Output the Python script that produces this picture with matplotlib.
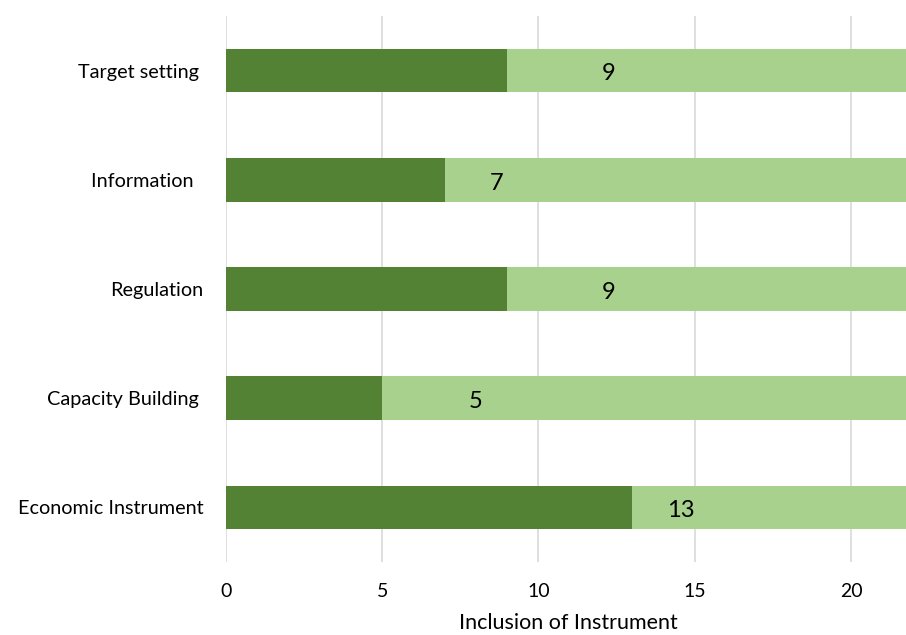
import numpy as np
import matplotlib.pyplot as plt

plt.rcParams['font.family'] = ['Lato', 'DejaVu Sans']

# Data (top to bottom as shown)
categories = ["Target setting ", "Information  ", "Regulation", "Capacity Building ", "Economic Instrument"]
counts = [9, 7, 9, 5, 13]
total = 22  # light bar fills the rest of the scale
label_offset = [3.26, 1.67, 3.26, 3.0, 1.56]  # where the number sits past the dark bar

dark = "#548235"
light = "#A9D18E"

fig = plt.figure(figsize=(9.06, 6.35), dpi=100)
ax = fig.add_axes([0.2494, 0.115, 0.7506, 0.8598])

y = np.arange(len(categories))
counts_arr = np.array(counts)
ax.barh(y, counts_arr, height=0.4, color=dark, zorder=2)
ax.barh(y, total - counts_arr, left=counts_arr, height=0.4, color=light, zorder=2)

for yi, c, off in zip(y, counts, label_offset):
    ax.text(c + off, yi + 0.03, str(c), ha='center', va='center', fontsize=17, color='black', zorder=3)

ax.set_yticks(y)
ax.set_yticklabels(categories, fontsize=14.3)
ax.set_ylim(len(categories) - 0.5, -0.5)
ax.set_xlim(0, 21.76)
ax.set_xticks([0, 5, 10, 15, 20])
ax.tick_params(axis='x', labelsize=14, length=0, pad=15)
ax.tick_params(axis='y', length=0, pad=16)
ax.grid(axis='x', color='#D9D9D9', linewidth=1.2, zorder=0)
ax.set_axisbelow(True)
for s in ax.spines.values():
    s.set_visible(False)

ax.set_xlabel("Inclusion of Instrument", fontsize=15.5)
ax.xaxis.set_label_coords(0.504, -0.094)

fig.savefig("out.png", dpi=100)
